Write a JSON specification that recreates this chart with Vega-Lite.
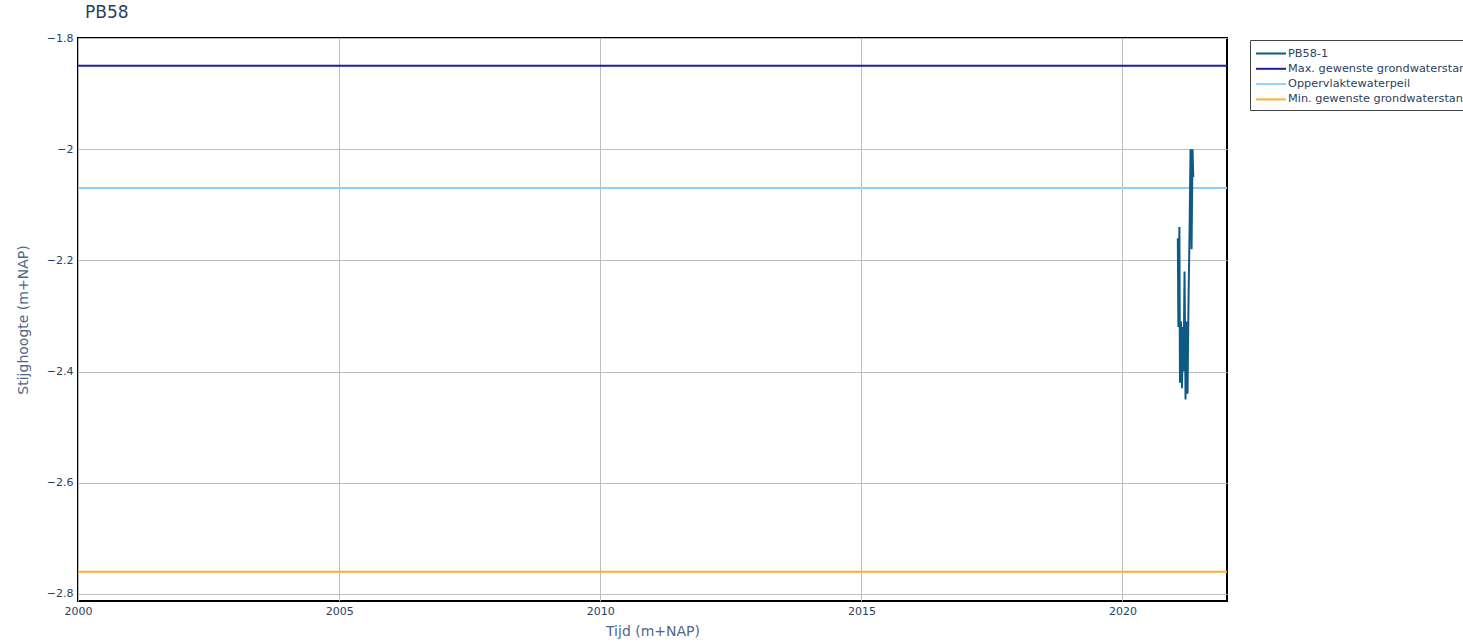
{
  "$schema": "https://vega.github.io/schema/vega-lite/v6.json",
  "autosize": {"type": "none"},
  "width": 1149,
  "height": 563,
  "padding": {"left": 78, "top": 38, "right": 236, "bottom": 43},
  "background": "white",
  "title": {
    "text": "PB58",
    "anchor": "start",
    "frame": "group",
    "dx": 7,
    "offset": 10,
    "fontSize": 17,
    "fontWeight": "normal",
    "font": "DejaVu Sans",
    "color": "#2a3f5f"
  },
  "config": {
    "view": {"stroke": "black", "strokeWidth": 2},
    "font": "DejaVu Sans",
    "axis": {
      "labelFont": "DejaVu Sans",
      "labelFontSize": 11,
      "labelColor": "#2a3f5f",
      "titleFont": "DejaVu Sans",
      "titleFontSize": 14,
      "titleFontWeight": "normal",
      "titleColor": "#506784",
      "gridColor": "#bdbdbd",
      "gridWidth": 1,
      "domain": false,
      "ticks": false,
      "labelBound": false,
      "labelFlush": false
    }
  },
  "datasets": {
    "meas": [
      {"date": "2021-01-22", "value": -2.16, "series": "PB58-1"},
      {"date": "2021-01-26", "value": -2.32, "series": "PB58-1"},
      {"date": "2021-02-02", "value": -2.14, "series": "PB58-1"},
      {"date": "2021-02-06", "value": -2.42, "series": "PB58-1"},
      {"date": "2021-02-13", "value": -2.31, "series": "PB58-1"},
      {"date": "2021-02-20", "value": -2.43, "series": "PB58-1"},
      {"date": "2021-02-27", "value": -2.32, "series": "PB58-1"},
      {"date": "2021-03-03", "value": -2.40, "series": "PB58-1"},
      {"date": "2021-03-10", "value": -2.22, "series": "PB58-1"},
      {"date": "2021-03-17", "value": -2.45, "series": "PB58-1"},
      {"date": "2021-03-24", "value": -2.31, "series": "PB58-1"},
      {"date": "2021-03-31", "value": -2.44, "series": "PB58-1"},
      {"date": "2021-04-07", "value": -2.27, "series": "PB58-1"},
      {"date": "2021-04-14", "value": -2.15, "series": "PB58-1"},
      {"date": "2021-04-21", "value": -2.00, "series": "PB58-1"},
      {"date": "2021-04-28", "value": -2.18, "series": "PB58-1"},
      {"date": "2021-05-05", "value": -2.00, "series": "PB58-1"},
      {"date": "2021-05-10", "value": -2.05, "series": "PB58-1"}
    ],
    "levels": [
      {"series": "Max. gewenste grondwaterstand", "value": -1.85},
      {"series": "Oppervlaktewaterpeil", "value": -2.07},
      {"series": "Min. gewenste grondwaterstand", "value": -2.76}
    ]
  },
  "layer": [
    {
      "data": {"name": "levels"},
      "mark": {"type": "rule", "strokeWidth": 2},
      "encoding": {
        "y": {"field": "value", "type": "quantitative"},
        "color": {"field": "series", "type": "nominal"}
      }
    },
    {
      "data": {"name": "meas"},
      "mark": {"type": "line", "strokeWidth": 2, "clip": true},
      "encoding": {
        "x": {
          "field": "date",
          "type": "temporal",
          "scale": {"domain": ["2000-01-01", "2022-01-01"], "nice": false},
          "axis": {
            "title": "Tijd (m+NAP)",
            "format": "%Y",
            "values": [
              {"year": 2000, "month": 1, "date": 1},
              {"year": 2005, "month": 1, "date": 1},
              {"year": 2010, "month": 1, "date": 1},
              {"year": 2015, "month": 1, "date": 1},
              {"year": 2020, "month": 1, "date": 1}
            ],
            "labelPadding": 4,
            "titlePadding": 8,
            "labelOverlap": false
          }
        },
        "y": {
          "field": "value",
          "type": "quantitative",
          "scale": {"domain": [-2.8126, -1.8], "nice": false, "zero": false},
          "axis": {
            "title": "Stijghoogte (m+NAP)",
            "values": [-2.8, -2.6, -2.4, -2.2, -2, -1.8],
            "format": "~g",
            "labelPadding": 5,
            "titlePadding": 16
          }
        },
        "color": {
          "field": "series",
          "type": "nominal",
          "scale": {
            "domain": ["PB58-1", "Max. gewenste grondwaterstand", "Oppervlaktewaterpeil", "Min. gewenste grondwaterstand"],
            "range": ["#0e5a85", "#1f1f9e", "#8fd0fa", "#ffae2e"]
          },
          "legend": {
            "title": null,
            "orient": "none",
            "legendX": 1172,
            "legendY": 2,
            "symbolType": "M-1,0H3",
            "symbolSize": 225,
            "symbolStrokeWidth": 2,
            "labelFont": "DejaVu Sans",
            "labelFontSize": 11.3,
            "labelColor": "#2a3f5f",
            "labelLimit": 600,
            "labelOffset": 16,
            "rowPadding": 1.3,
            "padding": 5,
            "strokeColor": "#444444",
            "fillColor": "white"
          }
        }
      }
    }
  ]
}
